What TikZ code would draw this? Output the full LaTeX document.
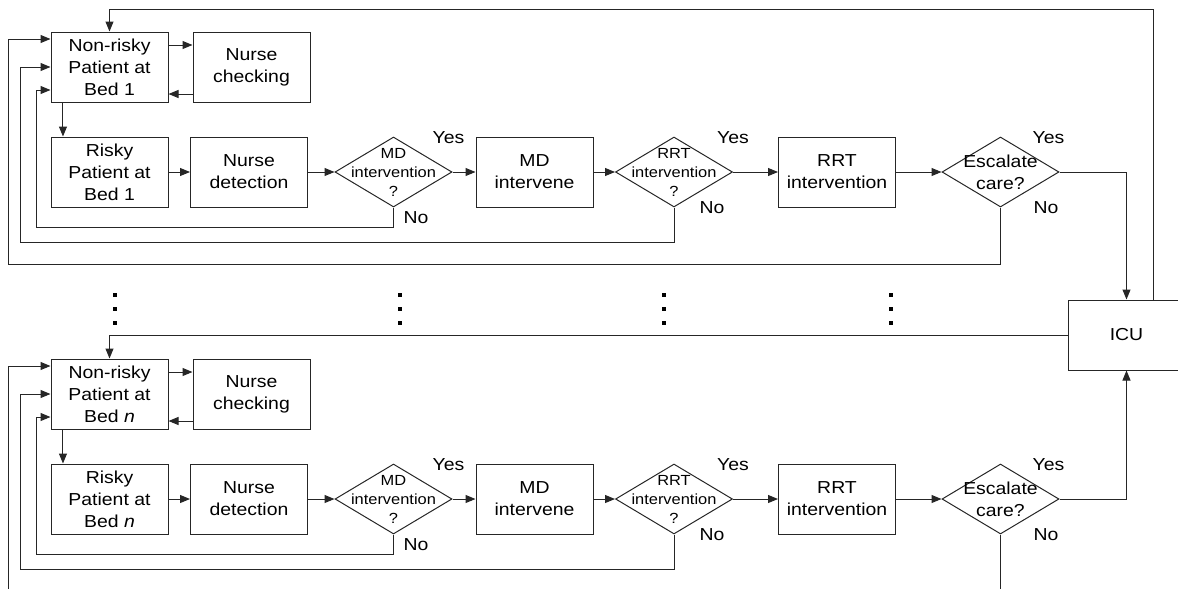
\documentclass[tikz,border=0pt]{standalone}
\usepackage{fontspec}
\setmainfont{Liberation Sans}[FakeStretch=1.12]
\usetikzlibrary{shapes.geometric,arrows.meta}
\newcommand\ftbig{\fontsize{13}{16.5}\selectfont}
\newcommand\ftsmall{\fontsize{11}{14.25}\selectfont}
\begin{document}
\begin{tikzpicture}[x=0.75pt,y=-0.75pt,
  ln/.style={line width=0.75pt, draw=black!85},
  arr/.style={ln, -{Triangle[length=7.5pt,width=6pt]}},
  box/.style={draw=black!85, line width=0.75pt, minimum width=87.75pt, minimum height=52.5pt, inner sep=0pt, align=center, font=\ftbig},
  dia/.style={draw=black!85, line width=0.75pt, diamond, minimum width=87.75pt, minimum height=52.5pt, inner sep=0pt},
  dtxt/.style={align=center, font=\ftsmall, inner sep=0pt},
  lab/.style={font=\ftbig, inner sep=0pt, align=center}]
\useasboundingbox (0,0) rectangle (1178,589);
\clip (0,0) rectangle (1178,589);

\node[box] (icu) at (1126.5,335) {ICU};

\foreach \s/\o/\bed in {1/0/1, n/327/\textit{n}} {
  \node[box] (nr\s) at (109.5,67+\o) {Non-risky\\Patient at\\Bed \bed};
  \node[box] (nc\s) at (251.5,67+\o) {Nurse\\checking};
  \node[box] (rk\s) at (109.5,172+\o) {Risky\\Patient at\\Bed \bed};
  \node[box] (nd\s) at (249,172+\o) {Nurse\\detection};
  \node[dia] (mq\s) at (393.5,172+\o) {};
  \node[dtxt] (mqt\s) at (mq\s) {MD\\intervention\\?};
  \node[box] (mi\s) at (534.5,172+\o) {MD\\intervene};
  \node[dia] (rq\s) at (674,172+\o) {};
  \node[dtxt] (rqt\s) at (rq\s) {RRT\\intervention\\?};
  \node[box] (ri\s) at (837,172+\o) {RRT\\intervention};
  \node[dia] (eq\s) at (1000.5,172+\o) {};
  \node[lab] (eqt\s) at (eq\s) {Escalate\\care?};
  \node[lab] (my\s) at (448.5,138+\o) {Yes};
  \node[lab] (mn\s) at (416,218+\o) {No};
  \node[lab] (ry\s) at (733,138+\o) {Yes};
  \node[lab] (rn\s) at (712,208+\o) {No};
  \node[lab] (ey\s) at (1048.5,138+\o) {Yes};
  \node[lab] (en\s) at (1046,208+\o) {No};

  \draw[arr] ([yshift=16.5pt]nr\s.east) -- ([yshift=16.5pt]nc\s.west);
  \draw[arr] ([yshift=-20.25pt]nc\s.west) -- ([yshift=-20.25pt]nr\s.east);
  \draw[arr] ([xshift=-34.9pt]nr\s.south) -- ([xshift=-34.9pt]rk\s.north);
  \draw[arr] (rk\s.east) -- (nd\s.west);
  \draw[arr] (nd\s.east) -- (mq\s.west);
  \draw[arr] (mq\s.east) -- (mi\s.west);
  \draw[arr] (mi\s.east) -- (rq\s.west);
  \draw[arr] (rq\s.east) -- (ri\s.west);
  \draw[arr] (ri\s.east) -- (eq\s.west);
  \draw[arr] (mq\s.south) -- ++(0,20) -| (36,90+\o) -- ([yshift=-17.25pt]nr\s.west);
  \draw[arr] (rq\s.south) -- ++(0,35) -| (20,67+\o) -- (nr\s.west);
}

\draw[arr] (eq1.south) -- ++(0,57) -| (8,39) -- ([yshift=21pt]nr1.west);
\draw[arr] (eq1.east) -| (icu.north);
\draw[arr] ([xshift=20.6pt]icu.north) |- (109.5,9) -- (nr1.north);
\draw[arr] (icu.west) -| (nrn.north);
\draw[arr] (eqn.east) -| (icu.south);
\draw[ln] (eqn.south) -- ++(0,70);
\coordinate (lowin) at (8,600);
\draw[arr] (lowin) -- (8,366) -- ([yshift=21pt]nrn.west);

\foreach \x in {115,400,664,891}
  \foreach \y in {295,309,323}
    \fill[black] (\x-2,\y-2) rectangle (\x+2,\y+2);
\end{tikzpicture}
\end{document}
